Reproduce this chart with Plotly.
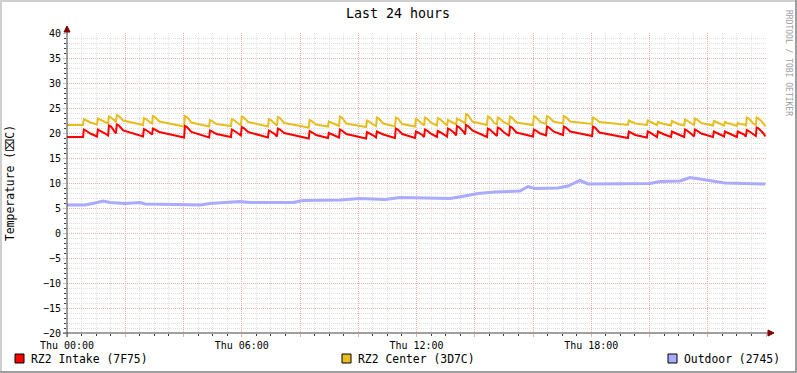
import plotly.graph_objects as go

W, H = 797, 373

# ---------------- data (hours since Thu 00:00) ----------------
room_hours = [0.0,
    0.55, 0.58, 0.65, 0.80,     1.03, 1.06, 1.13, 1.28,     1.41, 1.44, 1.51, 1.64,
    1.68, 1.71, 1.78, 1.93,     2.61, 2.64, 2.71, 2.86,     2.92, 2.95, 3.02, 3.17,
    4.02, 4.05, 4.12, 4.27,     4.88, 4.91, 4.98, 5.13,     5.63, 5.66, 5.73, 5.88,
    5.97, 6.00, 6.07, 6.22,     6.90, 6.93, 7.00, 7.15,     7.21, 7.24, 7.31, 7.46,
    8.30, 8.33, 8.40, 8.55,     8.96, 8.99, 9.06, 9.21,     9.34, 9.37, 9.44, 9.59,
    10.27, 10.30, 10.37, 10.52, 10.61, 10.64, 10.71, 10.86, 11.26, 11.29, 11.36, 11.51,
    11.95, 11.98, 12.05, 12.20, 12.26, 12.29, 12.36, 12.51, 12.70, 12.73, 12.80, 12.95,
    13.05, 13.08, 13.15, 13.30, 13.36, 13.39, 13.46, 13.61, 13.67, 13.70, 13.77, 13.92,
    14.42, 14.45, 14.52, 14.67, 14.76, 14.79, 14.86, 15.01, 15.18, 15.21, 15.28, 15.43,
    16.00, 16.03, 16.10, 16.25, 16.45, 16.48, 16.55, 16.70, 17.03, 17.06, 17.13, 17.28,
    18.03, 18.06, 18.13, 18.28, 19.26, 19.29, 19.36, 19.51, 19.91, 19.94, 20.01, 20.16,
    20.26, 20.29, 20.36, 20.51, 20.74, 20.77, 20.84, 20.99, 21.19, 21.22, 21.29, 21.44,
    21.53, 21.56, 21.63, 21.78, 22.18, 22.21, 22.28, 22.43, 22.56, 22.59, 22.66, 22.81,
    23.00, 23.03, 23.10, 23.25, 23.31, 23.34, 23.41, 23.56, 23.65, 23.68, 23.75, 23.90,
    23.98]

intake_7f75 = [19.2,
    19.2, 20.7, 20.5, 19.9,   19.3, 20.7, 20.5, 20.0,   19.5, 21.5, 21.3, 20.4,
    19.9, 21.7, 21.5, 20.5,   19.3, 20.8, 20.6, 20.0,   19.7, 20.9, 20.7, 20.2,
    19.1, 21.4, 21.2, 20.2,   19.1, 20.5, 20.3, 19.8,   19.2, 20.7, 20.5, 19.9,
    19.5, 21.2, 21.0, 20.2,   19.1, 20.5, 20.3, 19.7,   19.3, 20.9, 20.7, 20.0,
    18.9, 20.4, 20.2, 19.6,   19.0, 20.0, 19.8, 19.5,   19.1, 20.7, 20.5, 19.8,
    18.9, 20.2, 20.0, 19.5,   19.1, 20.3, 20.1, 19.7,   19.0, 20.9, 20.7, 19.8,
    19.0, 20.3, 20.1, 19.6,   19.2, 20.7, 20.5, 19.8,   19.2, 20.4, 20.2, 19.7,
    19.3, 20.9, 20.7, 20.0,   19.5, 21.4, 21.2, 20.3,   19.7, 21.6, 21.4, 20.5,
    19.2, 20.9, 20.7, 19.9,   19.4, 21.1, 20.9, 20.1,   19.4, 21.3, 21.1, 20.1,
    19.3, 20.7, 20.5, 19.9,   19.5, 21.3, 21.1, 20.3,   19.6, 21.3, 21.1, 20.3,
    19.4, 21.3, 21.1, 20.1,   19.0, 20.3, 20.1, 19.6,   19.1, 20.3, 20.1, 19.6,
    19.2, 20.3, 20.1, 19.7,   19.2, 20.3, 20.1, 19.7,   19.2, 20.7, 20.5, 19.8,
    19.3, 20.7, 20.5, 19.9,   19.2, 20.3, 20.1, 19.7,   19.3, 20.3, 20.1, 19.7,
    19.2, 20.3, 20.1, 19.7,   19.3, 20.6, 20.4, 19.8,   19.4, 21.1, 20.9, 20.0,
    19.3]

center_3d7c = [21.6,
    21.6, 22.8, 22.6, 22.1,   21.7, 22.9, 22.7, 22.2,   21.9, 23.3, 23.1, 22.5,
    22.1, 23.6, 23.4, 22.5,   21.6, 23.0, 22.8, 22.1,   21.9, 23.4, 23.2, 22.3,
    21.3, 23.4, 23.2, 22.1,   21.3, 22.6, 22.4, 21.8,   21.4, 22.8, 22.6, 21.9,
    21.6, 23.3, 23.1, 22.2,   21.3, 22.8, 22.6, 21.8,   21.5, 23.2, 23.0, 22.0,
    21.1, 22.6, 22.4, 21.7,   21.3, 22.3, 22.1, 21.7,   21.4, 23.3, 23.1, 21.9,
    21.2, 22.5, 22.3, 21.7,   21.4, 23.1, 22.9, 21.9,   21.3, 23.1, 22.9, 21.8,
    21.3, 22.8, 22.6, 21.8,   21.5, 23.1, 22.9, 22.0,   21.5, 23.0, 22.8, 22.0,
    21.6, 22.6, 22.4, 22.0,   21.7, 22.9, 22.7, 22.2,   21.8, 23.8, 23.6, 22.3,
    21.6, 23.3, 23.1, 22.0,   21.7, 23.1, 22.9, 22.1,   21.7, 23.3, 23.1, 22.1,
    21.6, 23.4, 23.2, 22.2,   21.8, 23.4, 23.2, 22.3,   21.9, 23.4, 23.2, 22.3,
    21.8, 23.1, 22.9, 22.2,   21.6, 22.5, 22.3, 21.9,   21.6, 22.5, 22.3, 21.9,
    21.6, 22.2, 22.0, 21.8,   21.5, 22.4, 22.2, 21.8,   21.5, 22.7, 22.5, 21.9,
    21.6, 22.9, 22.7, 22.0,   21.5, 22.4, 22.2, 21.8,   21.5, 22.2, 22.0, 21.8,
    21.4, 22.0, 21.8, 21.7,   21.5, 23.1, 22.9, 21.9,   21.6, 23.1, 22.9, 22.0,
    21.3]

outdoor_hours = [0.0, 0.62, 0.96, 1.24, 1.48, 1.99, 2.51, 2.68, 3.71, 4.57, 4.91,
                 5.94, 6.28, 7.76, 8.10, 9.37, 10.06, 10.92, 11.43, 12.12, 13.15,
                 13.56, 14.11, 14.70, 15.55, 15.83, 16.07, 16.86, 17.20, 17.61,
                 17.89, 20.02, 20.36, 21.05, 21.39, 21.73, 22.15, 22.59, 23.98]
outdoor_2745 = [5.6, 5.6, 6.0, 6.4, 6.1, 5.9, 6.1, 5.8, 5.7, 5.6, 5.9,
                6.3, 6.1, 6.1, 6.5, 6.6, 6.9, 6.7, 7.1, 7.0, 6.9,
                7.3, 7.9, 8.2, 8.4, 9.3, 8.9, 9.0, 9.4, 10.5,
                9.8, 9.9, 10.3, 10.4, 11.1, 10.8, 10.4, 10.0, 9.8]

series_names = ["RZ2 Intake (7F75)", "RZ2 Center (3D7C)", "Outdoor (2745)"]
series_colors = ["#FF0000", "#E8BE1E", "#AAAAFF"]

x_tickvals = [0, 2, 4, 6, 8, 10, 12, 14, 16, 18, 20, 22, 24]
x_ticktext = ["Thu 00:00", "", "", "Thu 06:00", "", "", "Thu 12:00", "", "",
              "Thu 18:00", "", "", ""]
y_tickvals = [-20, -15, -10, -5, 0, 5, 10, 15, 20, 25, 30, 35, 40]

FONT = "DejaVu Sans Mono"
MINOR_GRID = "#E0E0E0"
MAJOR_GRID = "#E8B0B0"
AXIS = "#404040"
ARROW = "#7F0000"


def px(x):
    return x / W


def py(y):
    return 1 - y / H


fig = go.Figure()
fig.add_trace(go.Scatter(x=outdoor_hours, y=outdoor_2745, mode="lines",
                         line=dict(color=series_colors[2], width=3),
                         name=series_names[2], showlegend=False, hoverinfo="skip"))
fig.add_trace(go.Scatter(x=room_hours, y=center_3d7c, mode="lines",
                         line=dict(color=series_colors[1], width=2),
                         name=series_names[1], showlegend=False, hoverinfo="skip"))
fig.add_trace(go.Scatter(x=room_hours, y=intake_7f75, mode="lines",
                         line=dict(color=series_colors[0], width=2),
                         name=series_names[0], showlegend=False, hoverinfo="skip"))

x0, x1, ytop, ybot = 67, 766, 33, 333

fig.update_layout(
    width=W, height=H,
    margin=dict(l=0, r=0, t=0, b=0, pad=0, autoexpand=False),
    paper_bgcolor="white", plot_bgcolor="white",
    font=dict(family=FONT, size=10, color="black"),
    xaxis=dict(
        domain=[px(x0), px(x1)], range=[0, 24], automargin=False,
        tickmode="array", tickvals=x_tickvals, ticktext=x_ticktext,
        showgrid=True, gridcolor=MAJOR_GRID, griddash="1px,1px", gridwidth=1,
        ticks="outside", ticklen=3, tickcolor=MAJOR_GRID,
        tickfont=dict(family=FONT, size=10, color="black"),
        zeroline=False, showline=False,
        minor=dict(tickmode="linear", tick0=0, dtick=0.5, showgrid=True,
                   gridcolor=MINOR_GRID, griddash="1px,1px", gridwidth=1,
                   ticks="outside", ticklen=2, tickcolor=AXIS),
        fixedrange=True,
    ),
    yaxis=dict(
        domain=[py(ybot), py(ytop)], range=[-20, 40], automargin=False,
        tickmode="array", tickvals=y_tickvals,
        showgrid=True, gridcolor=MAJOR_GRID, griddash="1px,1px", gridwidth=1,
        ticks="outside", ticklen=3, tickcolor=MAJOR_GRID,
        tickfont=dict(family=FONT, size=10, color="black"),
        zeroline=False, showline=False,
        minor=dict(tickmode="linear", tick0=0, dtick=1, showgrid=True,
                   gridcolor=MINOR_GRID, griddash="1px,1px", gridwidth=1,
                   ticks="outside", ticklen=2, tickcolor=AXIS),
        fixedrange=True,
    ),
    showlegend=False,
    hovermode=False,
)

shapes = []
# outer border (shade)
shapes.append(dict(type="line", xref="paper", yref="paper", x0=0, x1=1, y0=py(1), y1=py(1),
                   line=dict(color="#CFCFCF", width=2)))
shapes.append(dict(type="line", xref="paper", yref="paper", x0=px(1), x1=px(1), y0=0, y1=1,
                   line=dict(color="#CFCFCF", width=2)))
shapes.append(dict(type="line", xref="paper", yref="paper", x0=px(796), x1=px(796), y0=0, y1=1,
                   line=dict(color="#9E9E9E", width=2)))
shapes.append(dict(type="line", xref="paper", yref="paper", x0=0, x1=1, y0=py(372), y1=py(372),
                   line=dict(color="#9E9E9E", width=2)))
# axes
shapes.append(dict(type="line", xref="paper", yref="paper", x0=px(63), x1=px(770),
                   y0=py(333), y1=py(333), line=dict(color=AXIS, width=1)))
shapes.append(dict(type="line", xref="paper", yref="paper", x0=px(67), x1=px(67),
                   y0=py(337), y1=py(29), line=dict(color=AXIS, width=1)))
# arrows
shapes.append(dict(type="path", xref="paper", yref="paper",
                   path=f"M {px(768)} {py(330)} L {px(774)} {py(333)} L {px(768)} {py(336)} Z",
                   fillcolor=ARROW, line=dict(color=ARROW, width=1)))
shapes.append(dict(type="path", xref="paper", yref="paper",
                   path=f"M {px(64)} {py(32)} L {px(67)} {py(26)} L {px(70)} {py(32)} Z",
                   fillcolor=ARROW, line=dict(color=ARROW, width=1)))
# legend squares
legend_box_x = [15, 342, 668]
for bx, col in zip(legend_box_x, series_colors):
    shapes.append(dict(type="rect", xref="paper", yref="paper",
                       x0=px(bx), x1=px(bx + 9), y0=py(363), y1=py(354),
                       fillcolor=col, line=dict(color="black", width=1)))
fig.update_layout(shapes=shapes)

ann = []
ann.append(dict(text="Last 24 hours", x=px(398), y=py(13), xref="paper", yref="paper",
                showarrow=False, xanchor="center", yanchor="middle",
                font=dict(family=FONT, size=13.3, color="black")))
ann.append(dict(text="Temperature (<span style='font-family:DejaVu Sans'>⌧</span>C)",
                x=px(10), y=py(183), xref="paper", yref="paper",
                showarrow=False, xanchor="center", yanchor="middle", textangle=-90,
                font=dict(family=FONT, size=11.4, color="black")))
ann.append(dict(text="RRDTOOL / TOBI OETIKER", x=px(789), y=py(8), xref="paper", yref="paper",
                showarrow=False, xanchor="center", yanchor="top", textangle=90,
                font=dict(family=FONT, size=8, color="#A0A0A0")))
legend_text_x = [29, 356, 682]
for tx, name in zip(legend_text_x, series_names):
    ann.append(dict(text=name, x=px(tx), y=py(359), xref="paper", yref="paper",
                    showarrow=False, xanchor="left", yanchor="middle",
                    font=dict(family=FONT, size=11.4, color="black")))
fig.update_layout(annotations=ann)

fig.write_html("out.html",
               config={"displayModeBar": False, "staticPlot": True},
               post_script="document.body.style.margin='0';document.body.style.overflow='hidden';")
